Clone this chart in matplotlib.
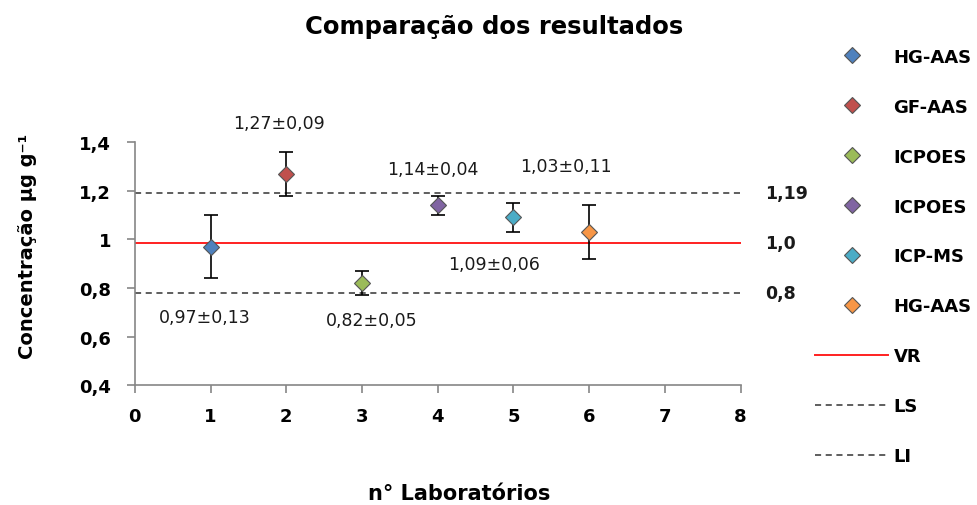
import matplotlib.pyplot as plt

plt.rcParams['font.family'] = ['DejaVu Sans']

# Data
labs = [1, 2, 3, 4, 5, 6]
methods = ['HG-AAS', 'GF-AAS', 'ICPOES', 'ICPOES', 'ICP-MS', 'HG-AAS']
values = [0.97, 1.27, 0.82, 1.14, 1.09, 1.03]
errors = [0.13, 0.09, 0.05, 0.04, 0.06, 0.11]
colors = ['#4F81BD', '#C0504D', '#9BBB59', '#8064A2', '#4BACC6', '#F79646']

VR = 0.985   # reference value
LS = 1.19    # upper limit
LI = 0.78    # lower limit
ref_labels = ['1,19', '1,0', '0,8']

y_ticks = [0.4, 0.6, 0.8, 1.0, 1.2, 1.4]
y_ticklabels = ['0,4', '0,6', '0,8', '1', '1,2', '1,4']

# where each value label sits, relative to its point (data units)
label_offsets = [(-0.08, -0.29), (-0.09, 0.21), (0.13, -0.15),
                 (-0.07, 0.15), (-0.25, -0.19), (-0.30, 0.27)]


def fmt(v, e):
    return ('%.2f±%.2f' % (v, e)).replace('.', ',')


fig = plt.figure(figsize=(9.77, 5.06), dpi=100)
ax = fig.add_axes([0.138, 0.237, 0.620, 0.480])

for x, v, e, c, m in zip(labs, values, errors, colors, methods):
    ax.errorbar(x, v, yerr=e, fmt='none', ecolor='black', elinewidth=1.2,
                capsize=5, capthick=1.2, zorder=3)
    ax.plot(x, v, 'D', color=c, markeredgecolor='#555555', markeredgewidth=0.8,
            markersize=8, label=m, zorder=4, clip_on=False)

ax.plot([0, 8], [VR, VR], color='#FF2020', lw=1.4, label='VR', zorder=2)
ax.plot([0, 8], [LS, LS], color='#333333', lw=1.1, ls=(0, (4, 3)), label='LS', zorder=2)
ax.plot([0, 8], [LI, LI], color='#333333', lw=1.1, ls=(0, (4, 3)), label='LI', zorder=2)

for x, v, e, (dx, dy) in zip(labs, values, errors, label_offsets):
    ax.text(x + dx, v + dy, fmt(v, e), ha='center', va='center', fontsize=12.5,
            color='#1a1a1a', clip_on=False)

for yv, t in zip([LS, VR, LI], ref_labels):
    ax.text(8.32, yv, t, ha='left', va='center', fontsize=12.5, fontweight='bold',
            color='#1a1a1a', clip_on=False)

ax.set_xlim(0, 8)
ax.set_ylim(0.4, 1.4)
ax.set_xticks(range(0, 9))
ax.set_xticklabels([str(i) for i in range(0, 9)], fontsize=13, fontweight='bold')
ax.set_yticks(y_ticks)
ax.set_yticklabels(y_ticklabels, fontsize=13, fontweight='bold')
ax.tick_params(direction='out', length=6, color='#868686', width=1.2)
ax.tick_params(axis='y', pad=11)
ax.tick_params(axis='x', pad=10)
for s in ['top', 'right']:
    ax.spines[s].set_visible(False)
for s in ['left', 'bottom']:
    ax.spines[s].set_color('#868686')
    ax.spines[s].set_linewidth(1.2)

ax.set_xlabel('n° Laboratórios', fontsize=15, fontweight='bold')
ax.set_ylabel('Concentração µg g⁻¹', fontsize=14, fontweight='bold')
ax.xaxis.set_label_coords(0.536, -0.405)
ax.yaxis.set_label_coords(-0.162, 0.576)
fig.text(0.506, 0.947, 'Comparação dos resultados', ha='center', va='center',
         fontsize=17.5, fontweight='bold')

leg = fig.legend(loc='upper left', bbox_to_anchor=(0.818, 0.936), frameon=False,
                 labelspacing=1.77, handlelength=4.0, handletextpad=0.33,
                 prop={'weight': 'bold', 'size': 13})

fig.savefig('out.png', dpi=100)
